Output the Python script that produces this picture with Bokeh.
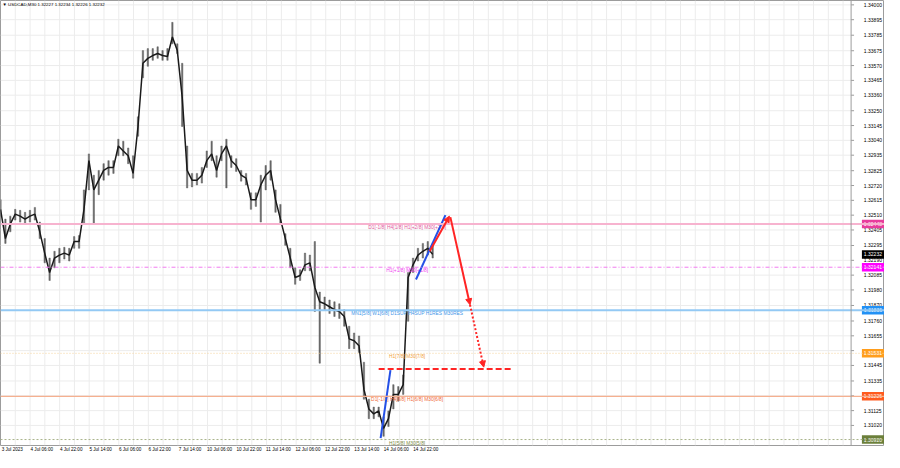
import numpy as np
from bokeh.plotting import figure
from bokeh.models import FixedTicker, Arrow, NormalHead, Range1d, Span, ColumnDataSource
from bokeh.core.properties import value
from bokeh.embed import file_html
from bokeh.resources import INLINE

# ---- price data (USDCAD M30, sampled every 5 bars) ----
closes = [1.32551, 1.32344, 1.32448, 1.32517, 1.32503, 1.32482, 1.32503, 1.32517, 1.32392, 1.32241,
          1.32103, 1.32206, 1.32227, 1.32241, 1.32227, 1.32323, 1.32323, 1.32551, 1.32896, 1.32689,
          1.32758, 1.32827, 1.32848, 1.32848, 1.33000, 1.32965, 1.32931, 1.32806, 1.33138, 1.33586,
          1.33621, 1.33641, 1.33655, 1.33641, 1.33634, 1.33772, 1.33676, 1.33345, 1.32827, 1.32758,
          1.32758, 1.32793, 1.32896, 1.32944, 1.32827, 1.32944, 1.33000, 1.32896, 1.32862, 1.32793,
          1.32772, 1.32620, 1.32620, 1.32724, 1.32793, 1.32827, 1.32620, 1.32482, 1.32344, 1.32206,
          1.32068, 1.32082, 1.32158, 1.32172, 1.31999, 1.31896, 1.31882, 1.31861, 1.31840, 1.31827,
          1.31792, 1.31633, 1.31620, 1.31585, 1.31275, 1.31137, 1.31102, 1.31123, 1.30999, 1.31068,
          1.31240, 1.31240, 1.31309, 1.32068, 1.32158, 1.32227, 1.32254, 1.32275, 1.32232]
highs = [1.32620, 1.32482, 1.32503, 1.32551, 1.32544, 1.32530, 1.32544, 1.32565, 1.32461, 1.32344,
         1.32206, 1.32254, 1.32275, 1.32282, 1.32275, 1.32358, 1.32365, 1.32689, 1.32944, 1.32793,
         1.32827, 1.32875, 1.32896, 1.32896, 1.33048, 1.33034, 1.32986, 1.32931, 1.33207, 1.33676,
         1.33690, 1.33690, 1.33703, 1.33676, 1.33690, 1.33876, 1.33724, 1.33586, 1.33000, 1.32806,
         1.32806, 1.32848, 1.32965, 1.33034, 1.32931, 1.33000, 1.33048, 1.32931, 1.32910, 1.32827,
         1.32806, 1.32668, 1.32668, 1.32793, 1.32862, 1.32896, 1.32689, 1.32586, 1.32379, 1.32275,
         1.32137, 1.32123, 1.32241, 1.32227, 1.32323, 1.31965, 1.31930, 1.31909, 1.31896, 1.31882,
         1.31840, 1.31723, 1.31675, 1.31654, 1.31468, 1.31206, 1.31150, 1.31150, 1.31081, 1.31123,
         1.31309, 1.31295, 1.31378, 1.32103, 1.32206, 1.32275, 1.32310, 1.32323, 1.32296]
lows = [1.32503, 1.32310, 1.32392, 1.32475, 1.32461, 1.32448, 1.32461, 1.32475, 1.32344, 1.32172,
        1.32047, 1.32137, 1.32172, 1.32199, 1.32185, 1.32275, 1.32275, 1.32448, 1.32689, 1.32448,
        1.32655, 1.32758, 1.32793, 1.32806, 1.32931, 1.32931, 1.32875, 1.32772, 1.33069, 1.33483,
        1.33565, 1.33607, 1.33621, 1.33607, 1.33607, 1.33724, 1.33655, 1.33138, 1.32703, 1.32710,
        1.32724, 1.32737, 1.32848, 1.32896, 1.32779, 1.32896, 1.32703, 1.32848, 1.32820, 1.32751,
        1.32724, 1.32551, 1.32572, 1.32461, 1.32689, 1.32758, 1.32530, 1.32448, 1.32296, 1.32137,
        1.32020, 1.32047, 1.32116, 1.32116, 1.31827, 1.31461, 1.31840, 1.31813, 1.31792, 1.31778,
        1.31723, 1.31564, 1.31564, 1.31537, 1.31206, 1.31068, 1.31068, 1.31081, 1.30943, 1.31012,
        1.31137, 1.31192, 1.31240, 1.31758, 1.32103, 1.32185, 1.32206, 1.32227, 1.32206]
bars = list(range(0, 5 * len(closes), 5))

x_labels = ["3 Jul 2023", "4 Jul 06:00", "4 Jul 22:00", "5 Jul 14:00", "6 Jul 06:00",
            "6 Jul 22:00", "7 Jul 14:00", "10 Jul 06:00", "10 Jul 22:00", "11 Jul 14:00",
            "12 Jul 06:00", "12 Jul 22:00", "13 Jul 14:00", "14 Jul 06:00", "14 Jul 22:00"]
price_ticks = [1.34000, 1.33895, 1.33785, 1.33675, 1.33570, 1.33465, 1.33360, 1.33250,
               1.33145, 1.33040, 1.32935, 1.32825, 1.32720, 1.32615, 1.32510, 1.32405,
               1.32295, 1.32190, 1.32085, 1.31980, 1.31870, 1.31760, 1.31655, 1.31550,
               1.31445, 1.31335, 1.31230, 1.31125, 1.31020]

level_prices = [1.32448, 1.32141, 1.31836, 1.31531, 1.31226, 1.30920]
level_names = ["D1[-1/8] H4[1/8] H1[+2/8] M30[+2/8]", "H1[+1/8] M30[+1/8]",
               "MN1[5/8] W1[6/8] D1SUP H4SUP H1RES M30RES", "H1[7/8] M30[7/8]",
               "D1[-1/8] H4[8/8] H1[6/8] M30[6/8]", "H1[5/8] M30[5/8]"]
level_line_colors = ["#f7b3cf", "#f27cf0", "#93c9f4", "#f4d39a", "#f5b090", "#a9b38a"]
level_line_widths = [2, 1, 2, 1, 1.2, 1]
level_line_dash = ["solid", "4 2 1 2", "solid", "1 2", "solid", "2 2"]
level_text_colors = ["#e0589c", "#f040f0", "#3f95e8", "#f2a33a", "#f06a3a", "#7d8c45"]
level_box_colors = ["#e83c9c", "#ff00ff", "#2291f5", "#ff9d1c", "#ff5a1e", "#6b7f3a"]
level_label_bar = 414
current_price = 1.32232
header = "\u25bc USDCAD,M30  1.32227 1.32234 1.32226 1.32232"

# analyst drawings (bar, price)
blue_lines_x = [[387, 397], [423, 453]]
blue_lines_y = [[1.30930, 1.31412], [1.32054, 1.32510]]
red_arrows = [(437, 1.32254, 457, 1.32503, "solid"),
              (458, 1.32496, 478, 1.31875, "solid"),
              (478, 1.31875, 492, 1.31433, "2 2")]
target_bars = [385, 522]
target_price = 1.31419

# ---- layout constants (reference pixel units on x) ----
X_MAX = 900          # full width incl. price scale
AXIS_X = 866         # price scale line
LABEL_X = 879        # start of price scale labels
BAR_PX = 15.05       # grid spacing
Y_TOP, Y_BOT = 1.34031, 1.308778

FONT = "Liberation Sans"
AX_FS = "5px"
DT_FS = "4.6px"
LV_FS = "4.9px"
GRID = "#ececec"
FRAME = "#9c9c9c"

p = figure(frame_width=884, frame_height=445,
           x_range=Range1d(0, X_MAX), y_range=Range1d(Y_BOT, Y_TOP),
           y_axis_location=None, output_backend="svg", toolbar_location=None,
           min_border_left=0, min_border_top=0, min_border_bottom=0, min_border_right=0,
           background_fill_color="white", border_fill_color="white")
p.outline_line_color = FRAME
p.xgrid.visible = False
p.ygrid.visible = False

# grid (stops at the price scale)
gx = [BAR_PX * m for m in range(1, int(AXIS_X / BAR_PX) + 1)]
p.segment(x0=gx, y0=[Y_BOT] * len(gx), x1=gx, y1=[Y_TOP] * len(gx), line_color=GRID, line_width=1)
p.segment(x0=[0] * len(price_ticks), y0=price_ticks, x1=[AXIS_X] * len(price_ticks),
          y1=price_ticks, line_color=GRID, line_width=1)

# bottom time axis
xt = [int(round(2 * BAR_PX * k + 12)) for k in range(len(x_labels))]
xa = p.xaxis[0]
xa.ticker = FixedTicker(ticks=xt)
xa.major_label_overrides = {t: lab for t, lab in zip(xt, x_labels)}
xa.major_label_text_font = FONT
xa.major_label_text_font_size = DT_FS
xa.major_label_text_color = "#000000"
xa.major_tick_line_color = None
xa.major_tick_out = 0
xa.minor_tick_line_color = None
xa.axis_line_color = None
xa.major_label_standoff = 1

# level lines
for pr, c, w, d in zip(level_prices, level_line_colors, level_line_widths, level_line_dash):
    p.add_layout(Span(location=pr, dimension="width", line_color=c, line_width=w, line_dash=d))

# candles
src = ColumnDataSource(dict(x=bars, c=closes, h=highs, l=lows))
p.vbar(x="x", top="h", bottom="l", width=1.4, source=src, fill_color="#666666",
       line_color="#666666", line_width=0.5)
p.line("x", "c", source=src, line_color="#1a1a1a", line_width=1.5)

# level names
tsrc = ColumnDataSource(dict(x=[level_label_bar] * len(level_prices), y=level_prices,
                             t=level_names, c=level_text_colors))
p.text(x="x", y="y", text="t", text_color="c", source=tsrc, text_align="center",
       text_baseline="top", y_offset=1, text_font=value(FONT), text_font_size=LV_FS)

# drawings
p.multi_line(xs=blue_lines_x, ys=blue_lines_y, line_color="#2450e6", line_width=2)
p.line(x=target_bars, y=[target_price] * 2, line_color="#ff2424", line_width=2, line_dash="6 3")
for x0, y0, x1, y1, dash in red_arrows:
    p.add_layout(Arrow(end=NormalHead(size=6, fill_color="#ff2424", line_color="#ff2424"),
                       x_start=x0, y_start=y0, x_end=x1, y_end=y1,
                       line_color="#ff2424", line_width=2, line_dash=dash))

# header
p.text(x=[2], y=[1.34004], text=[header], text_font=value(FONT), text_font_size="4.4px",
       text_color="#000000", text_baseline="middle")

# price scale (right)
p.add_layout(Span(location=AXIS_X, dimension="height", line_color=FRAME, line_width=1))
p.segment(x0=[AXIS_X] * len(price_ticks), y0=price_ticks, x1=[AXIS_X + 3] * len(price_ticks),
          y1=price_ticks, line_color=FRAME, line_width=1)
p.text(x=[LABEL_X] * len(price_ticks), y=price_ticks, text=[f"{t:.5f}" for t in price_ticks],
       text_font=value(FONT), text_font_size=AX_FS, text_color="#000000", text_baseline="middle")

box_prices = level_prices + [current_price]
box_colors = level_box_colors + ["#000000"]
box_x = (LABEL_X - 2 + X_MAX) / 2
p.rect(x=[box_x] * len(box_prices), y=box_prices, width=X_MAX - LABEL_X + 2, height=8.5,
       height_units="screen", fill_color=box_colors, line_color=None)
p.text(x=[LABEL_X] * len(box_prices), y=box_prices, text=[f"{v:.5f}" for v in box_prices],
       text_font=value(FONT), text_font_size=AX_FS, text_color="#ffffff", text_baseline="middle")

open("out.html", "w").write(file_html(p, INLINE))
